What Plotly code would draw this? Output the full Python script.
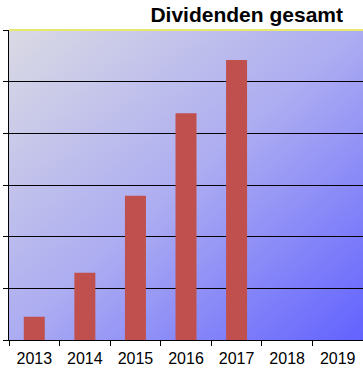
import base64
import plotly.graph_objects as go

years = ["2013", "2014", "2015", "2016", "2017", "2018", "2019"]
dividends = [0.45, 1.30, 2.79, 4.39, 5.42, None, None]
y_ticks = [0, 1, 2, 3, 4, 5, 6]
title_text = "Dividenden gesamt"

svg = (
    "<svg xmlns='http://www.w3.org/2000/svg' width='354' height='310' preserveAspectRatio='none'>"
    "<defs><linearGradient id='g' x1='0' y1='0' x2='1' y2='1'>"
    "<stop offset='0' stop-color='#dadae4'/>"
    "<stop offset='0.5' stop-color='#acacf2'/>"
    "<stop offset='1' stop-color='#6262ff'/>"
    "</linearGradient></defs>"
    "<rect width='354' height='310' fill='url(#g)'/></svg>"
)
src = "data:image/svg+xml;base64," + base64.b64encode(svg.encode()).decode()

fig = go.Figure()
fig.add_trace(go.Bar(x=years, y=dividends, marker=dict(color="#c0504d", line=dict(width=0))))

font = "Arial, Liberation Sans, sans-serif"
fig.update_layout(
    width=363, height=370,
    margin=dict(l=9, r=0, t=30, b=30),
    paper_bgcolor="white",
    plot_bgcolor="rgba(0,0,0,0)",
    bargap=0.585,
    showlegend=False,
    title=dict(text="<b>" + title_text + "</b>", x=0.9435, xanchor="right", xref="paper",
               y=0.961, yanchor="middle",
               font=dict(family=font, size=21, color="black")),
    images=[dict(source=src, xref="paper", yref="paper", x=0, y=1, sizex=1, sizey=1,
                 xanchor="left", yanchor="top", sizing="stretch", layer="below")],
    shapes=[dict(type="line", xref="paper", yref="paper", x0=0, x1=1, y0=1, y1=1,
                 line=dict(color="#e8e86a", width=2))],
    xaxis=dict(type="category", categoryorder="array", categoryarray=years,
               tickson="boundaries", ticks="outside", ticklen=5, tickcolor="black",
               ticklabelstandoff=4,
               showline=True, linecolor="black", linewidth=1, showgrid=False,
               tickfont=dict(family=font, size=16, color="black"), fixedrange=True),
    yaxis=dict(range=[0, 6], tickvals=y_ticks, showticklabels=False, ticks="outside",
               ticklen=5, tickcolor="black", showline=True, linecolor="black", linewidth=1,
               showgrid=True, gridcolor="black", gridwidth=1, zeroline=False, fixedrange=True),
)

fig.write_html("out.html", config={"displayModeBar": False},
               post_script="document.body.style.margin='0';")
